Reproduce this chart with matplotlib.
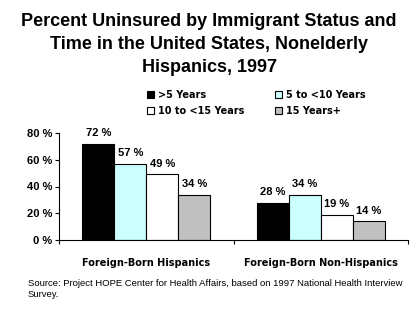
"""Percent uninsured by immigrant status, nonelderly Hispanics, 1997."""

import matplotlib.pyplot as plt
import numpy as np
from matplotlib.patches import Patch

groups = ["Foreign-Born Hispanics", "Foreign-Born Non-Hispanics"]
series = [">5 Years", "5 to <10 Years", "10 to <15 Years", "15 Years+"]
values = [
    [72, 28],
    [57, 34],
    [49, 19],
    [34, 14],
]
colors = ["#000000", "#ccffff", "#ffffff", "#c0c0c0"]
yticks = [0, 20, 40, 60, 80]

plt.rcParams["font.family"] = ["Liberation Sans", "DejaVu Sans"]
wide = {"family": "DejaVu Sans", "weight": "bold", "size": 7}  # letter-spaced look

fig = plt.figure(figsize=(4.18, 3.26), dpi=100)
ax = fig.add_axes([59 / 418, 1 - 240 / 326, 349 / 418, 107 / 326])

x = np.arange(len(groups))
width = 0.183
for i, (name, vals, col) in enumerate(zip(series, values, colors)):
    pos = x + (i - 1.5) * width
    ax.bar(pos, vals, width, color=col, edgecolor="black", linewidth=0.8)
    for px, v in zip(pos, vals):
        ax.text(px, v + 4, f"{v} %", ha="center", va="bottom",
                fontsize=8, fontweight="bold")

ax.set_xlim(-0.5, 1.5)
ax.set_ylim(0, 80)
ax.set_yticks(yticks)
ax.set_yticklabels([f"{t} %" for t in yticks], fontsize=8, fontweight="bold")
ax.set_xticks([-0.5, 0.5, 1.5])
ax.set_xticklabels([])
ax.set_xticks(x, minor=True)
ax.set_xticklabels(groups, minor=True, fontdict=wide)
ax.tick_params(axis="x", which="minor", length=0, pad=13)
ax.tick_params(axis="x", which="major", length=3, direction="out")
ax.tick_params(axis="y", length=3, pad=2)
for s in ["top", "right"]:
    ax.spines[s].set_visible(False)

fig.text(0.5, 1 - 13 / 326,
         "Percent Uninsured by Immigrant Status and\n"
         "Time in the United States, Nonelderly\nHispanics, 1997",
         ha="center", va="top", fontsize=13, fontweight="bold",
         linespacing=1.45, transform=fig.transFigure)

# legend fills row by row in the reference
order = [0, 2, 1, 3]
handles = [Patch(facecolor=colors[k], edgecolor="black", linewidth=0.8)
           for k in order]
fig.legend(handles, [series[k] for k in order], ncol=2, loc="upper left",
           bbox_to_anchor=(143 / 418, 1 - 86 / 326), frameon=False,
           prop=wide, handlelength=0.7,
           handleheight=0.7, handletextpad=0.4, columnspacing=3.2,
           labelspacing=0.6, borderaxespad=0)

fig.text(28 / 418, 1 - 289 / 326,
         "Source: Project HOPE Center for Health Affairs, based on 1997 "
         "National Health Interview\nSurvey.",
         ha="left", va="center", fontsize=6.8, linespacing=1.3)

fig.savefig("out.png", dpi=100)
